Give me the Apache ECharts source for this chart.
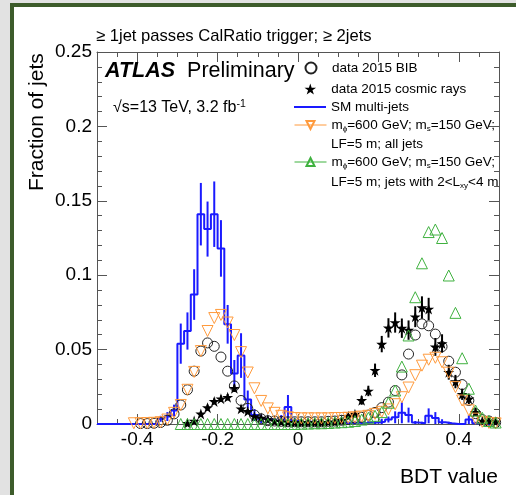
<!DOCTYPE html>
<html>
<head>
<meta charset="utf-8">
<script src="https://cdn.jsdelivr.net/npm/echarts@6/dist/echarts.min.js"></script>
<style>
html, body { margin: 0; padding: 0; background: #e2e2e2; overflow: hidden; }
#frame { position: absolute; left: 10px; top: 3px; width: 700px; height: 700px; background: #fff;
         border-left: 4px solid #3d5c2b; border-top: 4px solid #3d5c2b; }
#main { position: absolute; left: 0; top: 0; }
</style>
</head>
<body>
<div id="frame"></div>
<div id="main"></div>
<script>
var myChartContainer = document.getElementById('main');
myChartContainer.style.width = 516 + 'px';
myChartContainer.style.height = 495 + 'px';
var myChart = echarts.init(myChartContainer);

// 60 bins between -0.5 and 0.5
var xMin = -0.5, xMax = 0.5, nBins = 60;
var binWidth = (xMax - xMin) / nBins;
var xTickLabels = [-0.4, -0.2, 0, 0.2, 0.4];

// SM multi-jets (histogram + errors)
var smValues = [
    0, 0, 0, 0, 0, 0, 0, 0, 0, 0.0035,
    0.005, 0.009, 0.054, 0.0625, 0.087, 0.141, 0.131, 0.141, 0.118, 0.067,
    0.034, 0.046, 0.0165, 0.006, 0.0035, 0.003, 0.002, 0.003, 0.0115, 0.002,
    0.001, 0.0015, 0.001, 0.0005, 0.001, 0.0015, 0.001, 0.0005, 0.001, 0.0005,
    0.001, 0.001, 0.0015, 0.003, 0.0045, 0.0075, 0.006, 0.001, 0.0005, 0.0055,
    0.004, 0.0012, 0.0005, 0, 0, 0.003, 0.0005, 0, 0, 0
];
var smErrors = [
    0, 0, 0, 0, 0, 0, 0, 0, 0, 0.002,
    0.003, 0.004, 0.0135, 0.0125, 0.017, 0.021, 0.0185, 0.022, 0.019, 0.013,
    0.009, 0.015, 0.006, 0.004, 0.003, 0.002, 0.002, 0.003, 0.008, 0.002,
    0.001, 0.002, 0.001, 0.001, 0.001, 0.002, 0.001, 0.001, 0.001, 0.001,
    0.001, 0.001, 0.002, 0.002, 0.004, 0.007, 0.005, 0.001, 0.001, 0.005,
    0.004, 0.002, 0.001, 0, 0, 0.003, 0.001, 0, 0, 0
];
// data 2015 BIB
var bibValues = [
    null, null, null, null, null, null, 0.0003, 0.0003, 0.0005, 0.001,
    0.0025, 0.0068, 0.0128, 0.023, 0.0355, 0.049, 0.0545, 0.0522, 0.045, 0.0355,
    0.0256, 0.0158, 0.0105, 0.006, 0.0035, 0.0022, 0.002, 0.0018, 0.0015, 0.0015,
    0.0015, 0.0015, 0.0015, 0.0015, 0.0018, 0.002, 0.0025, 0.003, 0.004, 0.0045,
    0.006, 0.0078, 0.011, 0.0147, 0.0225, 0.033, 0.047, 0.0598, 0.0673, 0.066,
    0.0604, 0.052, 0.0422, 0.0348, 0.0265, 0.0158, 0.007, 0.003, 0.002, 0.001
];
// data 2015 cosmic rays
var cosmicValues = [
    null, null, null, null, null, null, null, null, null, null,
    null, null, null, 0.0005, 0.002, 0.0068, 0.011, 0.0152, 0.017, 0.018,
    0.024, 0.0102, 0.0085, 0.005, 0.004, 0.003, 0.002, 0.0015, 0.0012, 0.001,
    0.001, 0.001, 0.001, 0.001, 0.0012, 0.0015, 0.0025, 0.0052, 0.0066, 0.0159,
    0.0222, 0.0361, 0.0537, 0.0646, 0.0682, 0.0644, 0.0631, 0.0721, 0.0783, 0.0773,
    0.0518, 0.0541, 0.0348, 0.0285, 0.02, 0.0169, 0.0079, 0.002, 0.002, 0.0015
];
var cosmicErrors = [
    0, 0, 0, 0, 0, 0, 0, 0, 0, 0,
    0, 0, 0, 0.0007, 0.001, 0.0015, 0.002, 0.002, 0.0022, 0.0022,
    0.0025, 0.0017, 0.0015, 0.0012, 0.001, 0.0008, 0.0008, 0.0008, 0.0008, 0.0008,
    0.0008, 0.0008, 0.0008, 0.0008, 0.0008, 0.0008, 0.001, 0.0015, 0.002, 0.003,
    0.0035, 0.0045, 0.0055, 0.0065, 0.0068, 0.0065, 0.0065, 0.007, 0.0075, 0.0075,
    0.006, 0.0062, 0.005, 0.0045, 0.0038, 0.0035, 0.0025, 0.0012, 0.0012, 0.001
];
// signal, all jets
var allJetsValues = [
    null, null, null, null, null, 0.0005, 0.0005, 0.0006, 0.0008, 0.0012,
    0.003, 0.0075, 0.0128, 0.023, 0.035, 0.049, 0.0625, 0.0712, 0.0733, 0.0682,
    0.0598, 0.0483, 0.0346, 0.024, 0.0155, 0.0105, 0.0075, 0.0055, 0.0045, 0.004,
    0.0038, 0.0038, 0.0038, 0.0038, 0.0038, 0.004, 0.004, 0.0042, 0.0045, 0.005,
    0.0055, 0.0068, 0.0082, 0.0098, 0.0133, 0.018, 0.0245, 0.0328, 0.0392, 0.0432,
    0.0445, 0.0415, 0.0345, 0.0248, 0.0158, 0.0092, 0.0036, 0.0015, 0.0007, 0.0004
];
// signal, jets with 2<Lxy<4 m
var lxyJetsValues = [
    null, null, null, null, null, null, null, null, null, null,
    null, null, 0, 0, 0, 0, 0, 0, 0, 0,
    0, 0, 0, 0, 0, 0, 0, 0, 0, 0,
    0.0002, 0.0003, 0.0005, 0.0005, 0.0007, 0.001, 0.0012, 0.0015, 0.002, 0.003,
    0.0042, 0.0055, 0.008, 0.0143, 0.0225, 0.0386, 0.0595, 0.0852, 0.108, 0.129,
    0.1307, 0.125, 0.0998, 0.0747, 0.0442, 0.0237, 0.009, 0.0042, 0.002, 0.001
];

var FONT = 'Liberation Sans';
var AXIS_COLOR = '#555';
var BLUE = '#1a1aff';
var ORANGE = '#ff9a3c';
var GREEN = '#3fb13f';
var STAR = 'path://M50,0L61.2,34.5L97.6,34.5L68.2,55.9L79.4,90.5L50,69.1L20.6,90.5L31.8,55.9L2.4,34.5L38.8,34.5Z';

function binCenter(i) {
    return xMin + (i + 0.5) * binWidth;
}
// [x, y] pairs, missing bins dropped
function toPoints(values) {
    var out = [];
    values.forEach(function (v, i) {
        if (v !== null) out.push([binCenter(i), v]);
    });
    return out;
}
// [x, y, err] triples
function toErrors(values, errors) {
    var out = [];
    values.forEach(function (v, i) {
        if (v !== null && errors[i] > 0) out.push([binCenter(i), v, errors[i]]);
    });
    return out;
}
// histogram outline, one flat piece per bin
function toSteps(values) {
    var out = [];
    values.forEach(function (v, i) {
        out.push([xMin + i * binWidth, v]);
        out.push([xMin + (i + 1) * binWidth, v]);
    });
    return out;
}
function errorBars(color, width) {
    return function (params, api) {
        var x = api.value(0), y = api.value(1), e = api.value(2);
        var lo = api.coord([x, Math.max(0, y - e)]);
        var hi = api.coord([x, y + e]);
        return {
            type: 'line',
            shape: { x1: lo[0], y1: lo[1], x2: hi[0], y2: hi[1] },
            style: { stroke: color, lineWidth: width }
        };
    };
}

function minorX(pos) {
    return {
        type: 'value', position: pos, min: xMin, max: xMax, interval: 0.05,
        axisLine: { show: true, onZero: false, lineStyle: { color: AXIS_COLOR, width: 1 } },
        axisTick: { show: true, inside: true, length: 5, lineStyle: { color: AXIS_COLOR } },
        axisLabel: { show: false },
        splitLine: { show: false }
    };
}
function majorX(pos, labels) {
    return {
        type: 'value', position: pos, min: xMin, max: xMax,
        axisLine: { show: false, onZero: false },
        axisTick: { show: true, inside: true, length: 10, customValues: xTickLabels, lineStyle: { color: AXIS_COLOR } },
        axisLabel: { show: labels, customValues: xTickLabels, fontFamily: FONT, fontSize: 19, color: '#000', margin: 6 },
        splitLine: { show: false }
    };
}
function yAxisAt(pos, labels) {
    return {
        type: 'value', position: pos, min: 0, max: 0.25, interval: 0.05,
        axisLine: { show: true, onZero: false, lineStyle: { color: AXIS_COLOR, width: 1 } },
        axisTick: { show: true, inside: true, length: 10, lineStyle: { color: AXIS_COLOR } },
        minorTick: { show: true, splitNumber: 5, length: 5, lineStyle: { color: AXIS_COLOR } },
        axisLabel: { show: labels, fontFamily: FONT, fontSize: 19, color: '#000', margin: 5 },
        splitLine: { show: false },
        minorSplitLine: { show: false }
    };
}

var legendText = {
    fontFamily: FONT, fontSize: 13.5, color: '#000',
    rich: {
        n: { fontFamily: FONT, fontSize: 13.5, color: '#000', lineHeight: 16 },
        sub: { fontFamily: FONT, fontSize: 8, color: '#000', lineHeight: 8, verticalAlign: 'bottom' }
    }
};
function legendAt(item, left, top, extra) {
    var l = {
        data: [item], left: left, top: top, padding: 0,
        itemWidth: 32, itemHeight: 11, selectedMode: false,
        textStyle: legendText
    };
    for (var k in extra) l[k] = extra[k];
    return l;
}
var massText = '{n|m}{sub|ϕ}{n|=600 GeV; m}{sub|s}{n|=150 GeV;}';

var option = {
    animation: false,
    grid: { left: 97, top: 52, width: 402, height: 372 },
    xAxis: [minorX('bottom'), majorX('bottom', true), minorX('top'), majorX('top', false)],
    yAxis: [yAxisAt('left', true), yAxisAt('right', false)],
    title: {
        text: '≥ 1jet passes CalRatio trigger; ≥ 2jets',
        left: 91, top: 23,
        textStyle: { fontFamily: FONT, fontSize: 16.6, fontWeight: 'normal', color: '#000' }
    },
    legend: [
        legendAt('data 2015 BIB', 304.5, 61),
        legendAt('data 2015 cosmic rays', 304.5, 82),
        legendAt({ name: 'SM multi-jets', icon: 'rect' }, 294, 100, { itemHeight: 2 }),
        legendAt('signal all jets', 294, 118, {
            itemHeight: 10,
            formatter: function () { return massText; },
            lineStyle: { color: ORANGE, opacity: 1, width: 1 }
        }),
        legendAt('signal 2<Lxy<4 m', 294, 155, {
            itemHeight: 10,
            formatter: function () { return massText; },
            lineStyle: { color: GREEN, opacity: 1, width: 1 }
        })
    ],
    graphic: [
        {
            type: 'text', x: 105, y: 71,
            style: {
                text: '{b|ATLAS}{r|Preliminary}', verticalAlign: 'middle',
                rich: {
                    b: { fontFamily: FONT, fontSize: 21.5, fontWeight: 'bold', fontStyle: 'italic', fill: '#000' },
                    r: { fontFamily: FONT, fontSize: 21.5, fill: '#000', padding: [0, 0, 0, 12] }
                }
            }
        },
        {
            type: 'text', x: 113, y: 108,
            style: {
                text: '{n|√s=13 TeV, 3.2 fb}{sup|-1}', verticalAlign: 'middle',
                rich: {
                    n: { fontFamily: FONT, fontSize: 16, fill: '#000', lineHeight: 19 },
                    sup: { fontFamily: FONT, fontSize: 10.5, fill: '#000', lineHeight: 10, verticalAlign: 'top' }
                }
            }
        },
        {
            type: 'text', x: 331, y: 144,
            style: { text: 'LF=5 m; all jets', fontFamily: FONT, fontSize: 13.5, fill: '#000', verticalAlign: 'middle' }
        },
        {
            type: 'text', x: 331, y: 182,
            style: {
                text: '{n|LF=5 m; jets with 2<L}{sub|xy}{n|<4 m}', verticalAlign: 'middle',
                rich: {
                    n: { fontFamily: FONT, fontSize: 13.5, fill: '#000', lineHeight: 16 },
                    sub: { fontFamily: FONT, fontSize: 8, fill: '#000', lineHeight: 8, verticalAlign: 'bottom' }
                }
            }
        },
        {
            type: 'text', x: 498, y: 477,
            style: { text: 'BDT value', fontFamily: FONT, fontSize: 21, fill: '#000', align: 'right', verticalAlign: 'middle' }
        },
        {
            type: 'text', x: 37, y: 191, rotation: Math.PI / 2,
            style: { text: 'Fraction of jets', fontFamily: FONT, fontSize: 21, fill: '#000', align: 'left', verticalAlign: 'middle' }
        }
    ],
    series: [
        {
            name: 'SM multi-jets', type: 'line', data: toSteps(smValues),
            symbol: 'none', z: 2,
            lineStyle: { color: BLUE, width: 2 }, itemStyle: { color: BLUE }
        },
        {
            type: 'custom', data: toErrors(smValues, smErrors), clip: true, z: 2,
            renderItem: errorBars(BLUE, 2)
        },
        {
            name: 'data 2015 BIB', type: 'scatter', data: toPoints(bibValues),
            symbol: 'circle', symbolSize: 10, z: 3,
            itemStyle: { color: 'transparent', borderColor: '#222', borderWidth: 1, opacity: 1 }
        },
        {
            type: 'custom', data: toErrors(cosmicValues, cosmicErrors), clip: true, z: 4,
            renderItem: errorBars('#000', 2)
        },
        {
            name: 'data 2015 cosmic rays', type: 'scatter', data: toPoints(cosmicValues),
            symbol: STAR, symbolSize: 11, z: 4,
            itemStyle: { color: '#000', opacity: 1 }
        },
        {
            name: 'signal all jets', type: 'line', data: toPoints(allJetsValues),
            symbol: 'triangle', symbolRotate: 180, symbolSize: 11, showSymbol: true, z: 5,
            lineStyle: { color: ORANGE, opacity: 0 },
            itemStyle: { color: 'transparent', borderColor: ORANGE, borderWidth: 1 }
        },
        {
            name: 'signal 2<Lxy<4 m', type: 'line', data: toPoints(lxyJetsValues),
            symbol: 'triangle', symbolSize: 11, showSymbol: true, z: 5,
            lineStyle: { color: GREEN, opacity: 0 },
            itemStyle: { color: 'transparent', borderColor: GREEN, borderWidth: 1 }
        }
    ]
};

myChart.setOption(option);
</script>
</body>
</html>
